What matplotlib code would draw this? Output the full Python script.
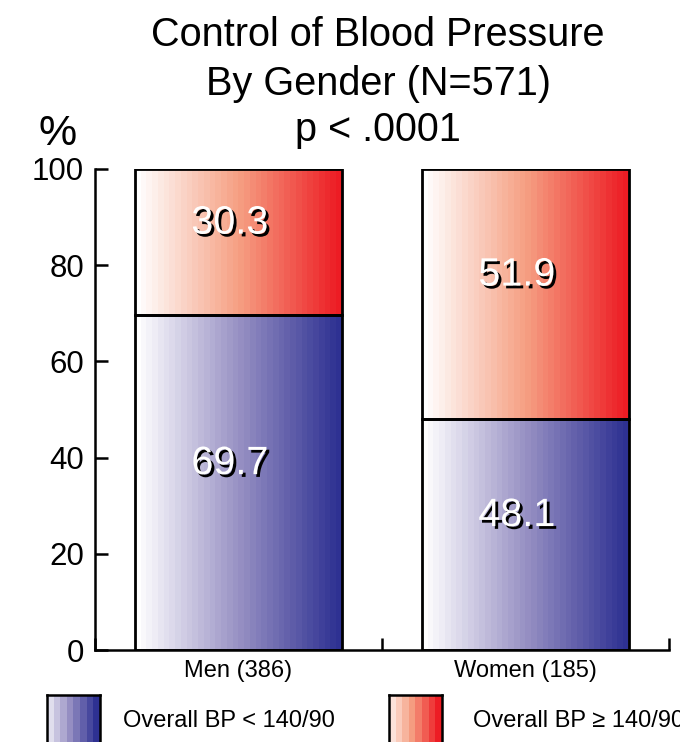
import numpy as np
import matplotlib
matplotlib.use("Agg")
import matplotlib.pyplot as plt
from matplotlib.colors import LinearSegmentedColormap
import matplotlib.patheffects as pe

plt.rcParams['font.family'] = ['Liberation Sans', 'DejaVu Sans']

groups = ['Men (386)', 'Women (185)']
controlled = [69.7, 48.1]       # Overall BP < 140/90
uncontrolled = [30.3, 51.9]     # Overall BP >= 140/90
legend_labels = ['Overall BP < 140/90', 'Overall BP \u2265 140/90']
title_lines = ['Control of Blood Pressure', 'By Gender (N=571)', 'p < .0001']

blue_cm = LinearSegmentedColormap.from_list('bl', ['#ffffff', '#9891c4', '#2e3192'])
red_cm = LinearSegmentedColormap.from_list('rd', ['#ffffff', '#f6a083', '#ed1c24'])

fig = plt.figure(figsize=(6.8, 7.42), dpi=100)
ax = fig.add_axes([95/680, 1 - 650/742, (669 - 95)/680, (650 - 169)/742])

x = np.arange(len(groups))
b1 = ax.bar(x, controlled, width=0.72, facecolor='none', edgecolor='black', linewidth=2, zorder=3)
b2 = ax.bar(x, uncontrolled, width=0.72, bottom=controlled, facecolor='none',
            edgecolor='black', linewidth=2, zorder=3)

grad = np.linspace(0, 1, 36)[None, :]
for bars, cm in [(b1, blue_cm), (b2, red_cm)]:
    for r in bars:
        ax.imshow(grad, cmap=cm, extent=[r.get_x(), r.get_x() + r.get_width(),
                                         r.get_y(), r.get_y() + r.get_height()],
                  aspect='auto', interpolation='nearest', zorder=2)

shadow = [pe.SimplePatchShadow(offset=(2, -2), shadow_rgbFace='black', alpha=1.0), pe.Normal()]
for i in range(len(groups)):
    ax.text(x[i] - 0.03, controlled[i] / 2 + 4, f'{controlled[i]:.1f}', ha='center', va='center',
            fontsize=28.5, color='white', path_effects=shadow, zorder=4)
    ax.text(x[i] - 0.03, controlled[i] + uncontrolled[i] / 2 + 4, f'{uncontrolled[i]:.1f}', ha='center',
            va='center', fontsize=28.5, color='white', path_effects=shadow, zorder=4)

ax.set_xlim(-0.5, 1.5)
ax.set_ylim(0, 100)
ax.spines['top'].set_visible(False)
ax.spines['right'].set_visible(False)
for s in ['left', 'bottom']:
    ax.spines[s].set_linewidth(1.8)

ax.set_yticks([0, 20, 40, 60, 80, 100])
ax.tick_params(axis='y', direction='in', length=9.5, width=1.8, labelsize=22.5, pad=8)
ax.set_xticks(x)
ax.set_xticklabels(groups)
ax.tick_params(axis='x', which='major', length=0, labelsize=17, pad=7)
ax.set_xticks([-0.5, 0.5, 1.5], minor=True)
ax.tick_params(axis='x', which='minor', direction='in', length=9, width=1.8)

fig.text(38/680, 1 - 145/742, '%', fontsize=31, ha='left', va='baseline')
for yb, line in zip([46, 95, 141], title_lines):
    fig.text(378/680, 1 - yb/742, line, fontsize=28.5, ha='center', va='baseline')

# legend swatches
steps = np.linspace(0.15, 1, 8)[None, :]
for x0, cm, lab, tx in [(47, blue_cm, legend_labels[0], 123), (389, red_cm, legend_labels[1], 473)]:
    lax = fig.add_axes([x0/680, -0.05, 53/680, (742 - 695)/742 + 0.05])
    lax.imshow(steps, cmap=cm, vmin=0, vmax=1, aspect='auto', interpolation='nearest')
    lax.set_xticks([])
    lax.set_yticks([])
    for s in lax.spines.values():
        s.set_linewidth(1.8)
    fig.text(tx/680, 1 - 727/742, lab, fontsize=17, ha='left', va='baseline')

fig.savefig('out.png', dpi=100)
